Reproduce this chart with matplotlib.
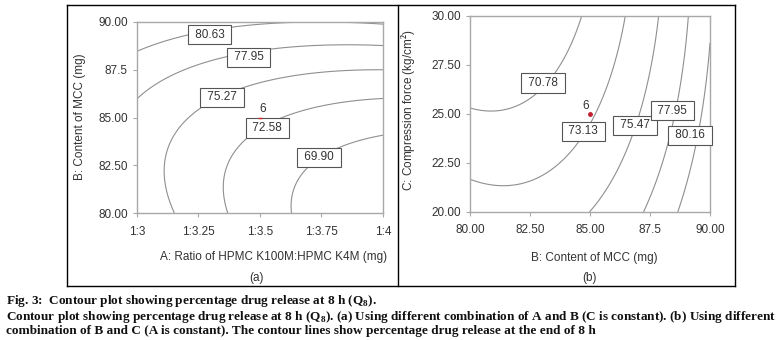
import numpy as np
import matplotlib
matplotlib.use("Agg")
import matplotlib.pyplot as plt
from matplotlib.lines import Line2D

plt.rcParams['font.family'] = ['Liberation Sans', 'DejaVu Sans']
plt.rcParams['mathtext.fontset'] = 'custom'
plt.rcParams['mathtext.rm'] = 'Liberation Serif:bold'
plt.rcParams['mathtext.bf'] = 'Liberation Serif:bold'

# quadratic response surface, coded factors (-1..1):
# Y = b0 + b1*x + b2*y + b12*x*y + b11*x^2 + b22*y^2
coef_a = [73.110, -3.105, 4.863, 2.061, 1.078, 2.906]   # x = A (ratio), y = B (MCC)
coef_b = [72.906, 4.978, -2.162, 0.811, 3.034, 0.422]   # x = B (MCC), y = C (force)

levels_a = [69.90, 72.58, 75.27, 77.95, 80.63]
levels_b = [70.78, 73.13, 75.47, 77.95, 80.16]

ratio = [3.0, 3.25, 3.5, 3.75, 4.0]
ratio_labels = ['1:3', '1:3.25', '1:3.5', '1:3.75', '1:4']
mcc = [80.0, 82.5, 85.0, 87.5, 90.0]
mcc_labels = ['80.00', '82.50', '85.00', '87.5', '90.00']
force = [20.0, 22.5, 25.0, 27.5, 30.0]
force_labels = ['20.00', '22.50', '25.00', '27.50', '30.00']

# design point 6 (centre point)
pt_a = (3.5, 85.0)
pt_b = (85.0, 25.0)

# where the contour labels sit (data coords)
lab_pos_a = [(3.74, 82.91), (3.53, 84.45), (3.346, 86.06), (3.454, 88.15), (3.296, 89.34)]
lab_pos_b = [(83.04, 26.58), (84.72, 24.11), (86.875, 24.43), (88.44, 25.16), (89.17, 23.92)]

GRAY = '#8f8f8f'
TXT = '#333333'


def surface(c, u, v):
    return c[0] + c[1] * u + c[2] * v + c[3] * u * v + c[4] * u ** 2 + c[5] * v ** 2


def style(ax, xt, xl, yt, yl, xpad):
    for s in ax.spines.values():
        s.set_color('#a8a8a8')
        s.set_linewidth(1.0)
    ax.set_xticks(xt)
    ax.set_xticklabels(xl)
    ax.set_yticks(yt)
    ax.set_yticklabels(yl)
    ax.tick_params(axis='both', direction='out', length=3, width=0.8,
                   color='#a8a8a8', labelcolor=TXT, labelsize=8.5)
    ax.tick_params(axis='x', pad=xpad)
    ax.tick_params(axis='y', pad=3.5)
    ax.set_xlim(xt[0], xt[-1])
    ax.set_ylim(yt[0], yt[-1])


def draw_labels(ax, levels, pos):
    for lv, (x, y) in zip(levels, pos):
        ax.text(x, y, ' %.2f ' % lv, ha='center', va='center', fontsize=8.5,
                color=TXT, zorder=5,
                bbox=dict(boxstyle='square,pad=0.3', fc='white', ec='#555555', lw=0.8))


fig = plt.figure(figsize=(7.84, 3.4), dpi=100)

# (a) A vs B
ax1 = fig.add_axes([0.1747, 0.3735, 0.3138, 0.5618])
A, B = np.meshgrid(np.linspace(3, 4, 301), np.linspace(80, 90, 301))
Z = surface(coef_a, (A - 3.5) / 0.5, (B - 85) / 5)
ax1.contour(A, B, Z, levels=levels_a, colors=GRAY, linewidths=0.8)
draw_labels(ax1, levels_a, lab_pos_a)
ax1.plot(*pt_a, marker='_', color='#d02020', ms=3, mew=1.0, zorder=6)
ax1.text(pt_a[0] + 0.01, pt_a[1] + 0.15, '6', fontsize=8.5, color=TXT,
         ha='center', va='bottom', zorder=6)
style(ax1, ratio, ratio_labels, mcc, mcc_labels, 6.5)

# (b) B vs C
ax2 = fig.add_axes([0.5995, 0.3765, 0.3061, 0.5765])
Bm, C = np.meshgrid(np.linspace(80, 90, 301), np.linspace(20, 30, 301))
Z2 = surface(coef_b, (Bm - 85) / 5, (C - 25) / 5)
ax2.contour(Bm, C, Z2, levels=levels_b, colors=GRAY, linewidths=0.8)
draw_labels(ax2, levels_b, lab_pos_b)
ax2.plot(*pt_b, marker='o', color='#c02030', ms=2.5, zorder=6)
ax2.text(pt_b[0] - 0.2, pt_b[1] + 0.12, '6', fontsize=8.5, color=TXT,
         ha='center', va='bottom', zorder=6)
style(ax2, mcc, mcc_labels, force, force_labels, 6)

# axis titles
fig.text(0.4936, 0.244, 'A: Ratio of HPMC K100M:HPMC K4M (mg)', ha='right', va='center',
         fontsize=8.5, color=TXT)
fig.text(0.102, 0.656, 'B: Content of MCC (mg)', rotation=90, ha='center', va='center',
         fontsize=8.5, color=TXT)
fig.text(0.3278, 0.1824, '(a)', ha='center', va='center', fontsize=8.5, color=TXT)
fig.text(0.7577, 0.241, 'B: Content of MCC (mg)', ha='center', va='center',
         fontsize=8.5, color=TXT)
fig.text(0.523, 0.676, 'C: Compression force (kg/cm$^2$)', rotation=90, ha='center',
         va='center', fontsize=8.5, color=TXT)
fig.text(0.7513, 0.1824, '(b)', ha='center', va='center', fontsize=8.5, color=TXT)

# frame around both panels
x0, x1, xm = 67 / 784, 735 / 784, 398 / 784
y0, y1 = 1 - 286 / 340, 1 - 5 / 340
for xs, ys in [([x0, x1], [y0, y0]), ([x0, x1], [y1, y1]), ([x0, x0], [y0, y1]),
               ([x1, x1], [y0, y1]), ([xm, xm], [y0, y1])]:
    fig.add_artist(Line2D(xs, ys, color='black', lw=1.0, transform=fig.transFigure))

# caption (one block so the lines keep their spacing)
caption = ('Fig. 3:  Contour plot showing percentage drug release at 8 h (Q$_8$).\n'
           'Contour plot showing percentage drug release at 8 h (Q$_8$). (a) Using '
           'different combination of A and B (C is constant). (b) Using different\n'
           'combination of B and C (A is constant). The contour lines show '
           'percentage drug release at the end of 8 h')
fig.text(0.008, 0.0735, caption, fontsize=9.5, family='Liberation Serif', weight='bold',
         color='#111111', ha='left', va='center', linespacing=1.0)

fig.savefig('out.png')
